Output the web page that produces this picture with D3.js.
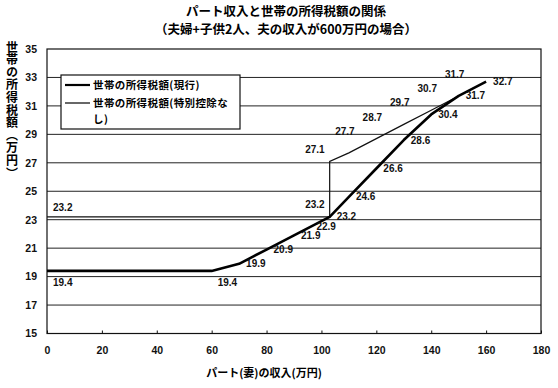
<!DOCTYPE html>
<html>
<head>
<meta charset="utf-8">
<script src="https://cdn.jsdelivr.net/npm/d3@7/dist/d3.min.js"></script>
<style>
  body { margin: 0; background: #fff; }
  svg { display: block; }
</style>
</head>
<body>
<div id="chart"></div>
<script>
// wife's part-time income (万円) and household income tax (万円)
const incomeCurrent = [0, 60, 70, 80, 90, 100, 103, 110, 120, 130, 140, 150, 160];
const taxCurrent = [19.4, 19.4, 19.9, 20.9, 21.9, 22.9, 23.2, 24.6, 26.6, 28.6, 30.4, 31.7, 32.7];
const labelPosCurrent = ["belowRight", "belowRight", "right", "right", "right", "under", "right", "right", "right", "right", "right", "right", "right"];

const incomeNoSpecial = [0, 103, 103, 110, 120, 130, 140, 150];
const taxNoSpecial = [23.2, 23.2, 27.1, 27.7, 28.7, 29.7, 30.7, 31.7];
const labelPosNoSpecial = ["aboveRight", "aboveLeft", "aboveLeft", "above", "above", "above", "above", "above"];

const xTicks = [0, 20, 40, 60, 80, 100, 120, 140, 160, 180];
const yTicks = [15, 17, 19, 21, 23, 25, 27, 29, 31, 33, 35];

const titleLines = ["パート収入と世帯の所得税額の関係", "（夫婦+子供2人、夫の収入が600万円の場合）"];
const yTitle = "世帯の所得税額（万円）";
const xTitle = "パート(妻)の収入(万円)";
const seriesNames = ["世帯の所得税額(現行)", "世帯の所得税額(特別控除な", "し)"];

const width = 558, height = 388;
const jp = "'Noto Sans CJK JP', 'Noto Sans', sans-serif";
const num = "'Liberation Sans', Arial, sans-serif";

const svg = d3.select("#chart").append("svg")
  .attr("width", width)
  .attr("height", height);

svg.append("rect").attr("width", width).attr("height", height).attr("fill", "#fff");

const x = d3.scaleLinear().domain([0, 180]).range([47, 541]);
const y = d3.scaleLinear().domain([15, 35]).range([333.5, 49]);

// title, two lines
const title = svg.append("text")
  .attr("text-anchor", "middle")
  .style("font-family", jp)
  .style("font-size", "12.5px")
  .style("font-weight", "bold");
title.selectAll("tspan")
  .data(titleLines)
  .enter().append("tspan")
  .attr("x", 286)
  .attr("y", (d, i) => 16 + i * 18.3)
  .text(d => d);

// gridlines
svg.append("g")
  .selectAll("line")
  .data(yTicks.slice(1, -1))
  .enter().append("line")
  .attr("x1", x(0)).attr("x2", x(180))
  .attr("y1", d => y(d)).attr("y2", d => y(d))
  .attr("stroke", "#222")
  .attr("stroke-width", 1);

// frame
svg.append("rect")
  .attr("x", x(0)).attr("y", y(35))
  .attr("width", x(180) - x(0))
  .attr("height", y(15) - y(35))
  .attr("fill", "none")
  .attr("stroke", "#111")
  .attr("stroke-width", 1.2);

// y axis labels
const yAxis = svg.append("g")
  .attr("transform", "translate(" + x(0) + ",0)")
  .call(d3.axisLeft(y).tickValues(yTicks).tickSize(0).tickPadding(10).tickFormat(d3.format("d")));
yAxis.select(".domain").remove();
yAxis.selectAll("text")
  .style("font-family", num)
  .style("font-size", "10.5px")
  .style("font-weight", "bold")
  .attr("fill", "#111");

// x axis
const xAxis = svg.append("g")
  .attr("transform", "translate(0," + y(15) + ")")
  .call(d3.axisBottom(x).tickValues(xTicks).tickSizeInner(-3).tickSizeOuter(0).tickPadding(13));
xAxis.select(".domain").remove();
xAxis.selectAll("line").attr("stroke", "#111");
xAxis.selectAll("text")
  .style("font-family", num)
  .style("font-size", "10.5px")
  .style("font-weight", "bold")
  .attr("fill", "#111");

// axis titles
svg.append("text")
  .attr("x", 264)
  .attr("y", 377)
  .attr("text-anchor", "middle")
  .style("font-family", jp)
  .style("font-size", "11px")
  .style("font-weight", "bold")
  .text(xTitle);

svg.append("text")
  .attr("x", 12)
  .attr("y", 41)
  .style("writing-mode", "vertical-rl")
  .style("font-family", jp)
  .style("font-size", "12px")
  .style("font-weight", "bold")
  .style("letter-spacing", "0.6px")
  .text(yTitle);

// series
const current = incomeCurrent.map((v, i) => ({ x: v, y: taxCurrent[i], pos: labelPosCurrent[i] }));
const noSpecial = incomeNoSpecial.map((v, i) => ({ x: v, y: taxNoSpecial[i], pos: labelPosNoSpecial[i] }));

const line = d3.line().x(d => x(d.x)).y(d => y(d.y));

svg.append("path")
  .datum(noSpecial)
  .attr("d", line)
  .attr("fill", "none")
  .attr("stroke", "#111")
  .attr("stroke-width", 1.2);

svg.append("path")
  .datum(current)
  .attr("d", line)
  .attr("fill", "none")
  .attr("stroke", "#000")
  .attr("stroke-width", 2.6)
  .attr("stroke-linejoin", "round");

// data labels
const place = {
  right:      { dx: 7,  dy: 3.5,  anchor: "start" },
  belowRight: { dx: 6,  dy: 15.5, anchor: "start" },
  under:      { dx: -5, dy: 8.5,  anchor: "start" },
  aboveRight: { dx: 6,  dy: -5.5, anchor: "start" },
  aboveLeft:  { dx: -5, dy: -8.5, anchor: "end" },
  above:      { dx: -4, dy: -18,  anchor: "middle" }
};

svg.append("g")
  .selectAll("text")
  .data(current.concat(noSpecial))
  .enter().append("text")
  .attr("x", d => x(d.x) + place[d.pos].dx)
  .attr("y", d => y(d.y) + place[d.pos].dy)
  .attr("text-anchor", d => place[d.pos].anchor)
  .style("font-family", num)
  .style("font-size", "10px")
  .style("font-weight", "bold")
  .attr("fill", "#111")
  .text(d => d3.format(".1f")(d.y));

// legend
const legend = svg.append("g");
legend.append("rect")
  .attr("x", 61).attr("y", 75)
  .attr("width", 179).attr("height", 54)
  .attr("fill", "#fff")
  .attr("stroke", "#111")
  .attr("stroke-width", 1.2);

legend.append("line")
  .attr("x1", 65).attr("x2", 90)
  .attr("y1", 85).attr("y2", 85)
  .attr("stroke", "#000").attr("stroke-width", 2.2);
legend.append("line")
  .attr("x1", 65).attr("x2", 90)
  .attr("y1", 103).attr("y2", 103)
  .attr("stroke", "#000").attr("stroke-width", 1.2);

const legendText = legend.append("text")
  .style("font-family", jp)
  .style("font-size", "10.5px")
  .style("font-weight", "bold")
  .style("letter-spacing", "0.4px");
legendText.selectAll("tspan")
  .data(seriesNames)
  .enter().append("tspan")
  .attr("x", 93)
  .attr("y", (d, i) => [88.5, 106.8, 122.5][i])
  .text(d => d);
</script>
</body>
</html>
